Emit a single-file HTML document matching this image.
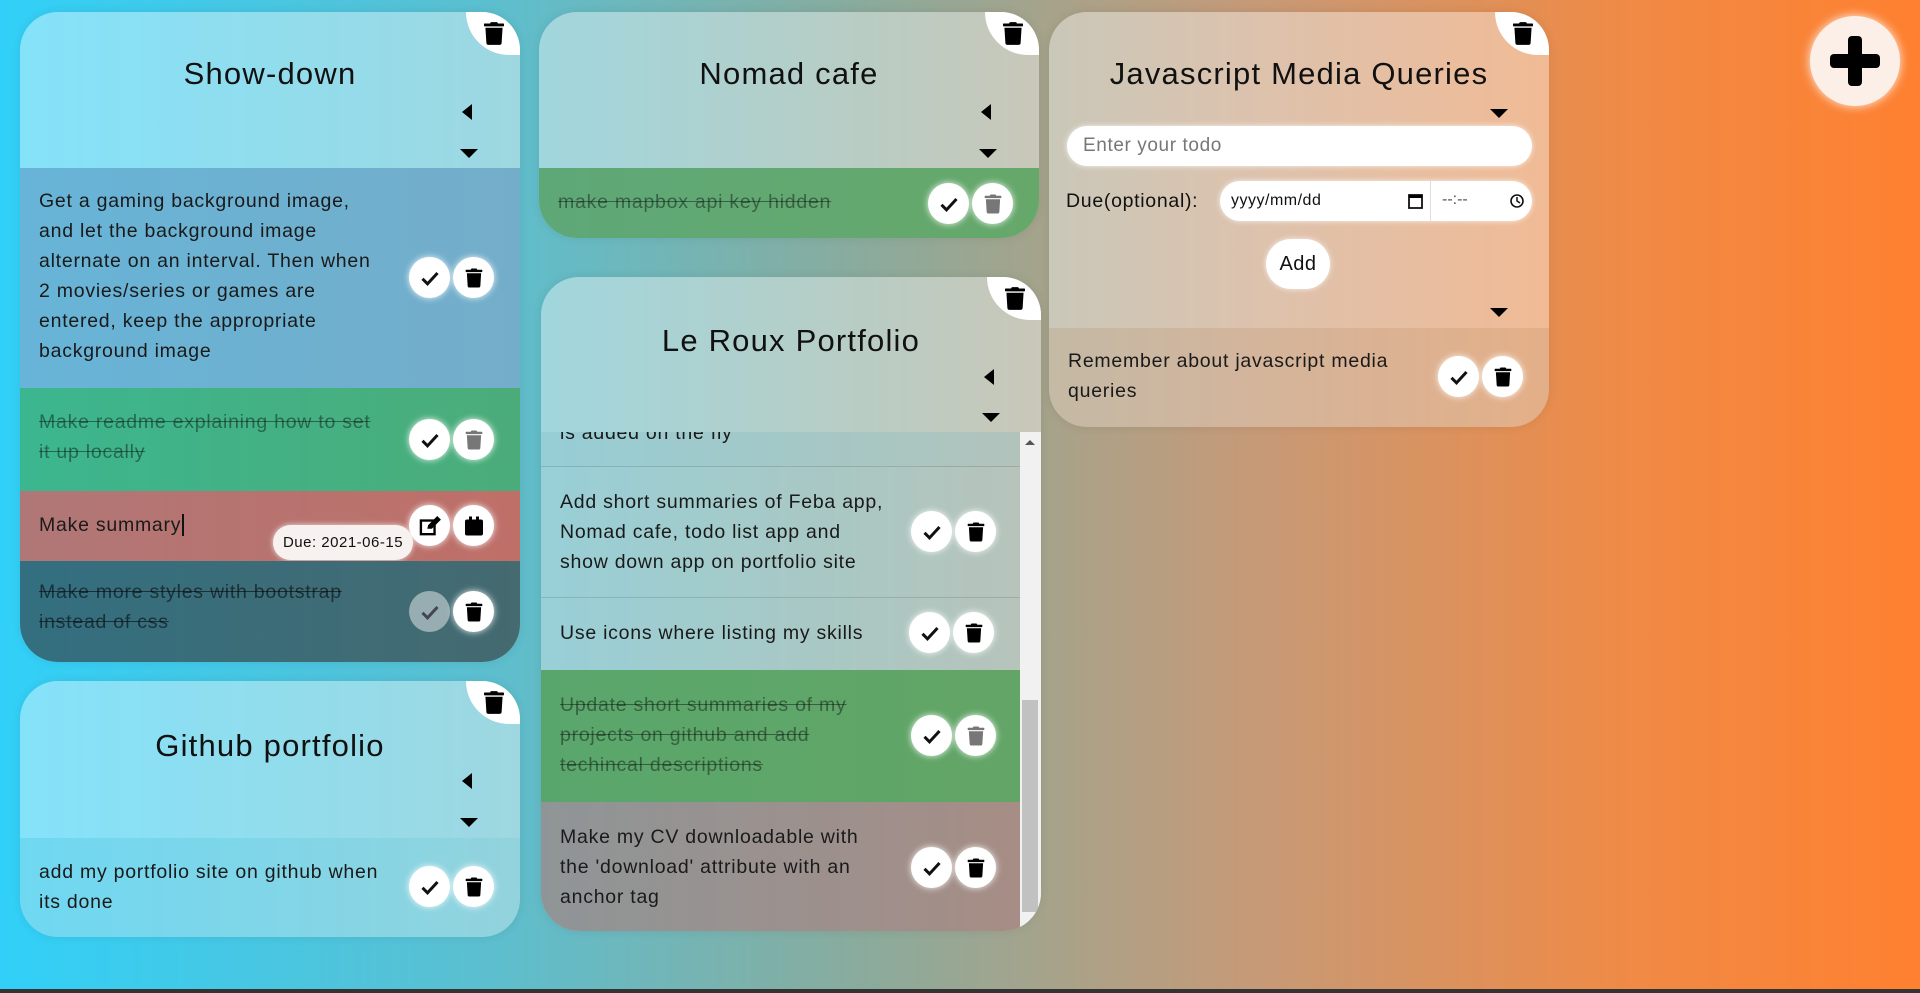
<!DOCTYPE html>
<html><head><meta charset="utf-8"><style>
*{box-sizing:border-box;margin:0;padding:0}
body{width:1920px;height:993px;overflow:hidden;position:relative;font-family:"Liberation Sans",sans-serif;color:#111;
background:linear-gradient(90deg,#31d0f8 0%,#5bbfd0 25%,#8aab9c 45%,#c59a78 65%,#f08a45 85%,#ff8030 100%)}
.bar{position:absolute;left:0;top:989px;width:1920px;height:4px;background:#333}
.card{position:absolute;border-radius:38px;overflow:hidden;background:rgba(255,255,255,0.4);box-shadow:0 0 10px rgba(0,0,0,0.08)}
.hdr{position:absolute;left:0;top:0;width:100%}
.title{position:absolute;left:0;width:100%;text-align:center;font-size:31px;letter-spacing:1.2px;color:#111}
.corner{position:absolute;right:0;top:0;width:54px;height:43px;background:#fff;border-bottom-left-radius:46px}
.corner svg{position:absolute;left:18px;top:10px;width:20px;height:23px}
.tl{position:absolute;width:0;height:0;border-top:8px solid transparent;border-bottom:8px solid transparent;border-right:10px solid #000}
.td{position:absolute;width:0;height:0;border-left:9px solid transparent;border-right:9px solid transparent;border-top:9px solid #000}
.row{position:absolute;left:0;width:100%}
.txt{position:absolute;left:19px;font-size:19.5px;line-height:30px;color:#1a1a1a;letter-spacing:0.75px}
.done{text-decoration:line-through;color:rgba(0,0,0,0.42)}
.btn{position:absolute;width:41px;height:41px;border-radius:50%;background:#fff;box-shadow:0 0 7px rgba(255,255,255,0.9)}
.btn svg{position:absolute;left:50%;top:50%;transform:translate(-50%,-50%)}
</style></head><body>
<svg width="0" height="0" style="position:absolute">
<defs>
<symbol id="tr" viewBox="0 0 448 512"><path d="M432 32H312l-9.4-18.7A24 24 0 0 0 281.1 0H166.8a23.7 23.7 0 0 0-21.4 13.3L136 32H16A16 16 0 0 0 0 48v32a16 16 0 0 0 16 16h416a16 16 0 0 0 16-16V48a16 16 0 0 0-16-16zM53.2 467a48 48 0 0 0 47.9 45h245.8a48 48 0 0 0 47.9-45L416 128H32z"/></symbol>
<symbol id="ck" viewBox="0 0 24 24"><path d="M3 13l6 6L21 6" fill="none" stroke="currentColor" stroke-width="3.6"/></symbol>
</defs></svg>

<!-- Show-down -->
<div class="card" style="left:20px;top:12px;width:500px;height:650px">
  <div class="title" style="top:44px">Show-down</div>
  <div class="corner"><svg><use href="#tr"/></svg></div>
  <div class="tl" style="left:442px;top:92px"></div>
  <div class="td" style="left:440px;top:137px"></div>
  <div class="row" style="top:156px;height:220px;background:linear-gradient(90deg,#67b4d8,#74adc9)">
    <div class="txt" style="top:18px">Get a gaming background image,<br>and let the background image<br>alternate on an interval. Then when<br>2 movies/series or games are<br>entered, keep the appropriate<br>background image</div>
    <div class="btn" style="left:389px;top:89px"><svg width="20" height="20"><use href="#ck"/></svg></div>
    <div class="btn" style="left:433px;top:89px"><svg width="17" height="19"><use href="#tr"/></svg></div>
  </div>
  <div class="row" style="top:376px;height:103px;background:linear-gradient(90deg,#3cb68f,#4bac79)">
    <div class="txt done" style="top:19px">Make readme explaining how to set<br>it up locally</div>
    <div class="btn" style="left:389px;top:31px"><svg width="20" height="20"><use href="#ck"/></svg></div>
    <div class="btn" style="left:433px;top:31px"><svg width="17" height="19" fill="#777"><use href="#tr"/></svg></div>
  </div>
  <div class="row" style="top:479px;height:70px;background:linear-gradient(90deg,#b07777,#bf6f68)">
    <div class="txt" style="top:19px">Make summary<span style="border-left:2px solid #111;margin-left:1px"></span></div>
    <div class="btn" style="left:389px;top:14px"><svg width="22" height="20" viewBox="0 0 24 22"><rect x="2" y="5" width="15" height="15" fill="none" stroke="#000" stroke-width="2.6"/><path d="M9 14l1-4L20 0l4 4-10 10z" fill="#000"/></svg></div>
    <div class="btn" style="left:433px;top:14px"><svg width="18" height="19" viewBox="0 0 18 19"><rect x="4" y="0" width="3" height="4"/><rect x="11" y="0" width="3" height="4"/><rect x="0" y="3" width="18" height="16" rx="2"/></svg></div>
    <div style="position:absolute;left:253px;top:34px;width:140px;height:35px;border-radius:18px;background:#f7f2f0;font-size:15px;line-height:35px;text-align:center;letter-spacing:0.5px;box-shadow:0 0 6px rgba(255,255,255,.8)">Due: 2021-06-15</div>
  </div>
  <div class="row" style="top:549px;height:101px;background:linear-gradient(90deg,#336f80,#456a70)">
    <div class="txt done" style="top:16px;color:rgba(0,0,0,0.55)">Make more styles with bootstrap<br>instead of css</div>
    <div class="btn" style="left:389px;top:30px;background:rgba(255,255,255,0.45);box-shadow:none"><svg width="20" height="20" style="color:#445"><use href="#ck"/></svg></div>
    <div class="btn" style="left:433px;top:30px"><svg width="17" height="19"><use href="#tr"/></svg></div>
  </div>
</div>

<!-- Github portfolio -->
<div class="card" style="left:20px;top:681px;width:500px;height:256px">
  <div class="title" style="top:47px">Github portfolio</div>
  <div class="corner"><svg><use href="#tr"/></svg></div>
  <div class="tl" style="left:442px;top:92px"></div>
  <div class="td" style="left:440px;top:137px"></div>
  <div class="row" style="top:157px;height:99px;background:linear-gradient(90deg,rgba(80,200,230,.4),rgba(120,200,210,.3))">
    <div class="txt" style="top:19px">add my portfolio site on github when<br>its done</div>
    <div class="btn" style="left:389px;top:28px"><svg width="20" height="20"><use href="#ck"/></svg></div>
    <div class="btn" style="left:433px;top:28px"><svg width="17" height="19"><use href="#tr"/></svg></div>
  </div>
</div>

<!-- Nomad cafe -->
<div class="card" style="left:539px;top:12px;width:500px;height:226px">
  <div class="title" style="top:44px">Nomad cafe</div>
  <div class="corner"><svg><use href="#tr"/></svg></div>
  <div class="tl" style="left:442px;top:92px"></div>
  <div class="td" style="left:440px;top:137px"></div>
  <div class="row" style="top:156px;height:70px;background:linear-gradient(90deg,#5ea878,#66a86a)">
    <div class="txt done" style="top:19px">make mapbox api key hidden</div>
    <div class="btn" style="left:389px;top:15px"><svg width="20" height="20"><use href="#ck"/></svg></div>
    <div class="btn" style="left:433px;top:15px"><svg width="17" height="19" fill="#777"><use href="#tr"/></svg></div>
  </div>
</div>

<!-- Le Roux -->
<div class="card" style="left:541px;top:277px;width:500px;height:654px">
  <div class="title" style="top:46px">Le Roux Portfolio</div>
  <div class="corner"><svg><use href="#tr"/></svg></div>
  <div class="tl" style="left:443px;top:92px"></div>
  <div class="td" style="left:441px;top:136px"></div>
  <div class="row" style="top:155px;height:35px;width:479px;background:rgba(120,180,190,.25);border-bottom:1px solid rgba(0,0,0,.12);overflow:hidden">
    <div class="txt" style="top:-14px">is added on the fly</div>
  </div>
  <div class="row" style="top:190px;height:131px;width:479px;background:rgba(120,180,190,.2);border-bottom:1px solid rgba(0,0,0,.12)">
    <div class="txt" style="top:20px">Add short summaries of Feba app,<br>Nomad cafe, todo list app and<br>show down app on portfolio site</div>
    <div class="btn" style="left:370px;top:44px"><svg width="20" height="20"><use href="#ck"/></svg></div>
    <div class="btn" style="left:414px;top:44px"><svg width="17" height="19"><use href="#tr"/></svg></div>
  </div>
  <div class="row" style="top:321px;height:72px;width:479px;background:rgba(120,180,190,.2)">
    <div class="txt" style="top:20px">Use icons where listing my skills</div>
    <div class="btn" style="left:368px;top:14px"><svg width="20" height="20"><use href="#ck"/></svg></div>
    <div class="btn" style="left:412px;top:14px"><svg width="17" height="19"><use href="#tr"/></svg></div>
  </div>
  <div class="row" style="top:393px;height:132px;width:479px;background:linear-gradient(90deg,#59a66c,#63a566)">
    <div class="txt done" style="top:20px">Update short summaries of my<br>projects on github and add<br>techincal descriptions</div>
    <div class="btn" style="left:370px;top:45px"><svg width="20" height="20"><use href="#ck"/></svg></div>
    <div class="btn" style="left:414px;top:45px"><svg width="17" height="19" fill="#777"><use href="#tr"/></svg></div>
  </div>
  <div class="row" style="top:525px;height:129px;width:479px;background:linear-gradient(90deg,#8f9597,#a68d85)">
    <div class="txt" style="top:20px">Make my CV downloadable with<br>the 'download' attribute with an<br>anchor tag</div>
    <div class="btn" style="left:370px;top:45px"><svg width="20" height="20"><use href="#ck"/></svg></div>
    <div class="btn" style="left:414px;top:45px"><svg width="17" height="19"><use href="#tr"/></svg></div>
  </div>
  <div style="position:absolute;left:479px;top:155px;width:21px;height:499px;background:#f1f1f1"></div>
  <div style="position:absolute;left:481px;top:423px;width:16px;height:212px;background:#c1c1c1"></div>
  <div style="position:absolute;left:484px;top:163px;width:0;height:0;border-left:5px solid transparent;border-right:5px solid transparent;border-bottom:5px solid #555"></div>
</div>

<!-- Javascript Media Queries -->
<div class="card" style="left:1049px;top:12px;width:500px;height:415px">
  <div class="title" style="top:44px">Javascript Media Queries</div>
  <div class="corner"><svg><use href="#tr"/></svg></div>
  <div class="td" style="left:441px;top:97px"></div>
  <div style="position:absolute;left:18px;top:114px;width:465px;height:40px;border-radius:20px;background:#fff;box-shadow:0 0 6px rgba(255,255,255,.8);font-size:19px;line-height:40px;padding-left:16px;color:#777;letter-spacing:0.6px">Enter your todo</div>
  <div style="position:absolute;left:17px;top:174px;font-size:19.5px;line-height:30px;letter-spacing:0.7px">Due(optional):</div>
  <div style="position:absolute;left:171px;top:169px;width:312px;height:40px;border-radius:20px;background:#fff;box-shadow:0 0 6px rgba(255,255,255,.8)">
    <span style="position:absolute;left:11px;top:11px;font-size:16px;letter-spacing:0.5px">yyyy/mm/dd</span>
    <svg style="position:absolute;left:188px;top:11px" width="15" height="17" viewBox="0 0 15 17"><rect x="1" y="3" width="13" height="13" fill="none" stroke="#111" stroke-width="1.8"/><rect x="1" y="3" width="13" height="3"/></svg>
    <div style="position:absolute;left:210px;top:0;width:1px;height:40px;background:#ddd"></div>
    <span style="position:absolute;left:222px;top:10px;font-size:16px;color:#555">--:--</span>
    <svg style="position:absolute;left:290px;top:13px" width="14" height="14" viewBox="0 0 14 14"><circle cx="7" cy="7" r="6" fill="none" stroke="#111" stroke-width="1.6"/><path d="M7 3v4l3 2" fill="none" stroke="#111" stroke-width="1.5"/></svg>
  </div>
  <div style="position:absolute;left:217px;top:227px;width:64px;height:50px;border-radius:25px;background:#fff;box-shadow:0 0 6px rgba(255,255,255,.8);font-size:20px;line-height:50px;text-align:center;letter-spacing:0.5px">Add</div>
  <div class="td" style="left:441px;top:296px"></div>
  <div class="row" style="top:316px;height:99px;background:rgba(170,120,80,.18)">
    <div class="txt" style="top:18px">Remember about javascript media<br>queries</div>
    <div class="btn" style="left:389px;top:28px"><svg width="20" height="20"><use href="#ck"/></svg></div>
    <div class="btn" style="left:433px;top:28px"><svg width="17" height="19"><use href="#tr"/></svg></div>
  </div>
</div>

<!-- Plus button -->
<div style="position:absolute;left:1810px;top:16px;width:90px;height:90px;border-radius:50%;background:#fcefe7;box-shadow:0 0 10px rgba(255,255,255,.9)">
  <div style="position:absolute;left:20px;top:38px;width:50px;height:14px;background:#000;border-radius:4px"></div>
  <div style="position:absolute;left:38px;top:20px;width:14px;height:50px;background:#000;border-radius:4px"></div>
</div>
<div class="bar"></div>
</body></html>
